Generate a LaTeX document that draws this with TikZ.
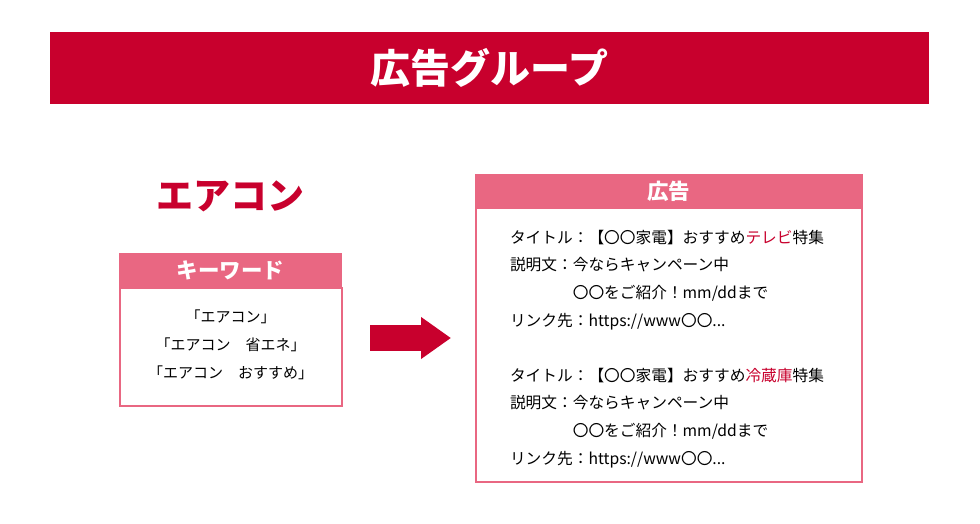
\documentclass[tikz,border=0pt]{standalone}
\usepackage{fontspec}
\setmainfont{Noto Sans CJK JP}
\usepackage{tikz}
\usetikzlibrary{arrows.meta, positioning, calc}
\usepackage{xcolor}
\definecolor{brandred}{RGB}{200,0,45}
\definecolor{softpink}{RGB}{233,103,130}

\begin{document}
\begin{tikzpicture}[x=1pt, y=-1pt,
   every node/.style={inner sep=0pt, outer sep=0pt},
   headbar/.style={fill=softpink, text=white, font=\fontsize{21.5}{21.5}\selectfont\bfseries,
                   anchor=north west},
   bodybox/.style={draw=softpink, line width=2pt, fill=white, anchor=north},
   adtext/.style={font=\fontsize{15.7}{27.7}\selectfont, align=left, anchor=north west}]
  \useasboundingbox (0,0) rectangle (980,523);

  % title bar
  \node[fill=brandred, text=white, minimum width=879, minimum height=72,
        anchor=north west, font=\fontsize{40}{40}\selectfont\bfseries]
       (title) at (50,32) {広告グループ};

  % left side
  \node[text=brandred, font=\fontsize{37}{37}\selectfont\bfseries]
       (theme) at (230,196) {エアコン};

  \node[bodybox, minimum width=222, minimum height=118] (kwbody) at (230.5,288) {};
  \node[headbar, minimum width=223, minimum height=35] (kwhead) at (119,253) {キーワード};
  \node[font=\fontsize{15}{28}\selectfont, align=center] (kwlist) at ($(kwbody.center)+(0,-2)$)
       {「エアコン」\\「エアコン　省エネ」\\「エアコン　おすすめ」};

  % right side
  \node[bodybox, minimum width=386, minimum height=274] (adbody) at (668.5,208) {};
  \node[headbar, minimum width=388, minimum height=34] (adhead) at (474.5,174) {広告};

  \node[adtext] (adone) at (510,230)
       {タイトル：【〇〇家電】おすすめ\textcolor{brandred}{テレビ}特集\\
        説明文：今ならキャンペーン中\\
        \hspace*{4em}〇〇をご紹介！mm/ddまで\\
        リンク先：https://www〇〇...};
  \node[adtext] (adtwo) at (510,368)
       {タイトル：【〇〇家電】おすすめ\textcolor{brandred}{冷蔵庫}特集\\
        説明文：今ならキャンペーン中\\
        \hspace*{4em}〇〇をご紹介！mm/ddまで\\
        リンク先：https://www〇〇...};

  % arrow
  \coordinate (from) at (370,338);
  \coordinate (to) at (451,338);
  \draw[brandred, line width=26pt, -{Triangle[length=30pt, width=40pt]}] (from) -- (to);
\end{tikzpicture}
\end{document}
